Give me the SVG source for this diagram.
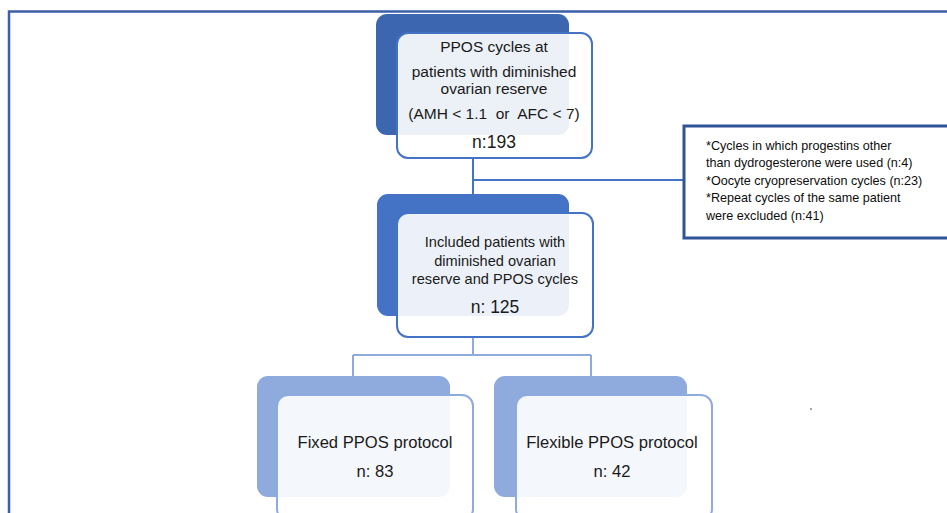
<svg xmlns="http://www.w3.org/2000/svg" width="947" height="513" viewBox="0 0 947 513">
<style>
text{font-family:"Liberation Sans",Arial,sans-serif;fill:#1a1a1a;text-anchor:middle}
.t{font-size:15.5px}
.m{font-size:14.6px}
.n{font-size:17.5px}
.b{font-size:16.6px}
.x{font-size:12.6px;text-anchor:start;fill:#0d0d0d}
.front{fill:#ffffff;fill-opacity:0.9;stroke-width:2}
.f1{stroke:#4472c4}
.f3{stroke:#8faadc}
.conn{fill:none;stroke-width:2}
</style>
<rect width="947" height="513" fill="#ffffff"/>
<g id="frame" fill="none" stroke="#3c5fa8" stroke-width="2.5">
<path d="M9 513 V11.5 H947"/>
</g>
<g id="connectors">
<path class="conn" stroke="#4472c4" d="M473 158 V194 M473 180 H684"/>
<path class="conn" stroke="#8faadc" d="M473 337 V355 M353 355 H591 M353 355 V376 M591 355 V376"/>
</g>
<g id="node-top">
<rect x="376" y="14" width="193" height="121" rx="11" fill="#3d66b0"/>
<rect class="front f1" x="397" y="33" width="195" height="125" rx="11"/>
<text class="t" x="494" y="52">PPOS cycles at</text>
<text class="t" x="494" y="77">patients with diminished</text>
<text class="t" x="494" y="94">ovarian reserve</text>
<text class="t" x="494" y="119" xml:space="preserve">(AMH &lt; 1.1  or  AFC &lt; 7)</text>
<text class="n" x="494" y="148">n:193</text>
</g>
<g id="node-excluded">
<rect x="684" y="126" width="270" height="112" fill="#ffffff" stroke="#2f5597" stroke-width="3"/>
<text class="x" x="706" y="150">*Cycles in which progestins other</text>
<text class="x" x="706" y="167">than dydrogesterone were used (n:4)</text>
<text class="x" x="706" y="185">*Oocyte cryopreservation cycles (n:23)</text>
<text class="x" x="706" y="202">*Repeat cycles of the same patient</text>
<text class="x" x="706" y="220">were excluded (n:41)</text>
</g>
<g id="node-included">
<rect x="377" y="194" width="192" height="122" rx="11" fill="#4472c4"/>
<rect class="front f1" x="397" y="213" width="196" height="124" rx="11"/>
<text class="m" x="495" y="247">Included patients with</text>
<text class="m" x="495" y="266">diminished ovarian</text>
<text class="m" x="495" y="284">reserve and PPOS cycles</text>
<text class="n" x="495" y="313">n: 125</text>
</g>
<g id="node-fixed">
<rect x="257" y="376" width="193" height="121" rx="11" fill="#8faadc"/>
<rect class="front f3" x="277" y="395" width="196" height="125" rx="11"/>
<text class="b" x="375" y="448">Fixed PPOS protocol</text>
<text class="b" x="375" y="477">n: 83</text>
</g>
<g id="node-flexible">
<rect x="494" y="376" width="193" height="121" rx="11" fill="#8faadc"/>
<rect class="front f3" x="516" y="395" width="196" height="125" rx="11"/>
<text class="b" x="612" y="448">Flexible PPOS protocol</text>
<text class="b" x="612" y="477">n: 42</text>
</g>
<circle cx="811" cy="409" r="1" fill="#888888"/>
</svg>
